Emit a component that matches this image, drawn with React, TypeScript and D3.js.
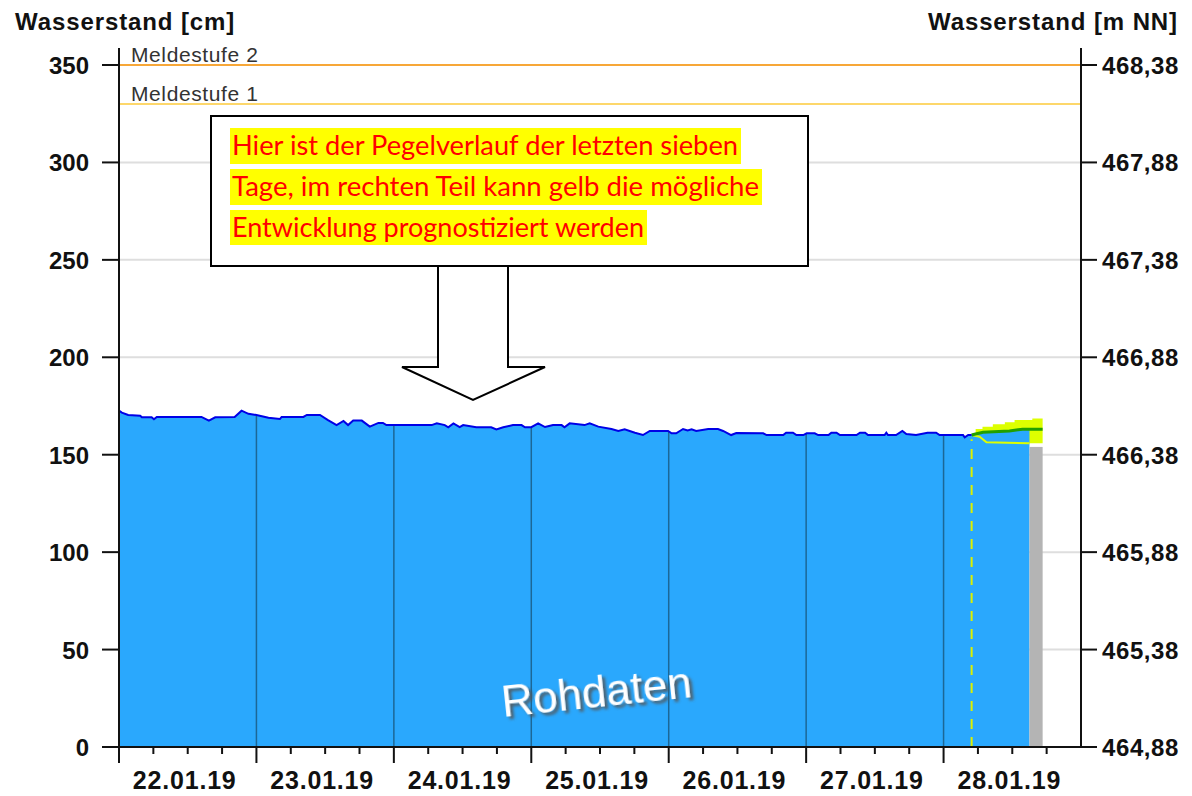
import React from 'react';
import * as d3 from 'd3';

const W = 1192;
const H = 796;

// Left axis (cm) ticks and right axis (m NN) labels
const leftTicks = [0, 50, 100, 150, 200, 250, 300, 350];
const rightTickLabels = ['464,88', '465,38', '465,88', '466,38', '466,88', '467,38', '467,88', '468,38'];
const gridTicks = [50, 100, 150, 200, 250, 300];
const dayLabels = ['22.01.19', '23.01.19', '24.01.19', '25.01.19', '26.01.19', '27.01.19', '28.01.19'];

// Thresholds
const meldestufe2 = 350;
const meldestufe1 = 330;

// Observed water level: hours since 22.01.19 00:00, level in cm
const obsHours = [0, 0.5, 1.6, 3.7, 4.0, 5.7, 6.1, 6.6, 14.4, 15.7, 16.8, 20.2, 21.4, 22.6, 24.0, 26.1, 28.1, 28.4, 32.2, 32.8, 35.1, 36.5, 38.0, 39.2, 40.0, 40.9, 42.4, 43.8, 45.3, 46.1, 46.7, 54.6, 55.5, 56.9, 57.5, 58.4, 59.5, 60.1, 62.4, 65.0, 65.9, 67.1, 68.8, 70.3, 70.9, 72.0, 73.2, 74.4, 75.8, 77.3, 77.8, 78.7, 81.3, 82.2, 83.7, 86.0, 87.2, 88.3, 90.1, 91.5, 92.7, 95.9, 96.5, 97.3, 98.5, 99.3, 100.0, 100.8, 102.9, 104.6, 105.5, 106.9, 107.8, 112.5, 113.1, 116.0, 116.5, 117.7, 118.3, 119.5, 120.1, 121.5, 122.1, 123.9, 124.4, 125.3, 125.9, 128.8, 129.4, 130.3, 130.8, 133.7, 134.0, 134.3, 135.7, 136.8, 137.5, 139.2, 141.2, 142.7, 143.3, 147.4, 147.7, 148.3, 148.9];
const obsLevels = [172.6, 171.6, 170.4, 170.0, 169.2, 169.2, 168.2, 169.4, 169.4, 167.5, 169.2, 169.4, 172.6, 171.0, 170.4, 169.0, 168.3, 169.4, 169.4, 170.4, 170.4, 167.8, 165.2, 167.3, 165.2, 167.5, 167.5, 164.4, 166.3, 166.3, 165.2, 165.2, 166.1, 165.2, 164.1, 166.1, 164.2, 165.2, 164.1, 164.1, 163.0, 164.1, 165.2, 165.2, 164.1, 164.1, 166.1, 164.2, 165.2, 165.2, 164.1, 166.1, 165.2, 166.1, 164.4, 163.2, 162.2, 163.0, 161.3, 160.1, 162.2, 162.2, 161.0, 161.0, 163.2, 162.4, 163.0, 162.2, 163.2, 163.2, 162.2, 160.1, 161.1, 161.0, 160.1, 160.1, 161.3, 161.3, 160.1, 160.1, 161.0, 161.0, 160.1, 160.1, 161.3, 161.3, 160.1, 160.1, 161.3, 161.3, 160.1, 160.1, 161.3, 160.1, 160.1, 162.2, 160.6, 160.1, 161.3, 161.3, 160.1, 160.1, 158.9, 160.1, 160.1];

// Forecast (hours, cm)
const forecastStart = 148.9;
const fcUpperHours = [148.9, 149.6, 150.8, 152.6, 154.7, 156.4, 159.5, 161.3];
const fcUpperLevels = [160.5, 163.2, 164.4, 165.6, 166.6, 167.8, 168.6, 168.6];
const fcMedianHours = [148.9, 149.4, 150.9, 155.5, 157.8, 161.3];
const fcMedianLevels = [160.1, 160.5, 161.5, 162.2, 163.1, 163.1];
const fcLowerHours = [148.9, 150.3, 151.5, 159.0, 161.3];
const fcLowerLevels = [160.1, 159.2, 156.4, 155.9, 155.9];
const blueEndHour = 159.0;
const grayEndHour = 161.3;
const grayLevel = 154;

export default function App() {
  const x = d3.scaleLinear().domain([0, 168]).range([119, 1081]);
  const y = d3.scaleLinear().domain([0, 350]).range([747, 65]);
  const top = 48;

  const obs = obsHours.map((h, i) => [h, obsLevels[i]] as [number, number]);
  const median = fcMedianHours.map((h, i) => [h, fcMedianLevels[i]] as [number, number]);
  const upper = fcUpperHours.map((h, i) => [h, fcUpperLevels[i]] as [number, number]);
  const lower = fcLowerHours.map((h, i) => [h, fcLowerLevels[i]] as [number, number]);

  // blue area: observed + median up to blueEndHour
  const medInterp = (h: number) => {
    for (let i = 0; i < median.length - 1; i++) {
      if (h >= median[i][0] && h <= median[i + 1][0]) {
        const t = (h - median[i][0]) / (median[i + 1][0] - median[i][0]);
        return median[i][1] + t * (median[i + 1][1] - median[i][1]);
      }
    }
    return median[median.length - 1][1];
  };
  const areaPts: [number, number][] = [
    ...obs,
    ...median.filter((p) => p[0] > forecastStart && p[0] < blueEndHour),
    [blueEndHour, medInterp(blueEndHour)],
  ];
  const area = d3.area<[number, number]>().x((d) => x(d[0])).y0(y(0)).y1((d) => y(d[1]));
  const line = d3.line<[number, number]>().x((d) => x(d[0])).y((d) => y(d[1]));
  const stepLine = d3.line<[number, number]>().x((d) => x(d[0])).y((d) => y(d[1])).curve(d3.curveStepAfter);

  // band between lower and upper
  const bandPath =
    stepLine(upper)! +
    'L' +
    lower
      .slice()
      .reverse()
      .map((d) => `${x(d[0])},${y(d[1])}`)
      .join('L') +
    'Z';

  const midnights = d3.range(24, 168, 24);
  const minorTicks = d3.range(6, 168, 6).filter((h) => h % 24 !== 0);

  const axisFont = "'Liberation Sans', Arial, sans-serif";

  return (
    <svg width={W} height={H} style={{ position: 'absolute', left: 0, top: 0, background: '#fff' }}>
      <defs>
        <clipPath id="areaClip">
          <path d={area(areaPts)!} />
        </clipPath>
        <filter id="shadow" x="-20%" y="-50%" width="140%" height="200%">
          <feDropShadow dx="3" dy="3" stdDeviation="1.6" floodColor="#555" floodOpacity="0.9" />
        </filter>
      </defs>
      <rect x={0} y={0} width={W} height={H} fill="#fff" />

      {/* horizontal grid */}
      {gridTicks.map((t) => (
        <line key={t} x1={x(0)} x2={x(168)} y1={y(t)} y2={y(t)} stroke="#dedede" strokeWidth={2} />
      ))}

      {/* forecast band */}
      <path d={bandPath} fill="#ddff00" />

      {/* blue area */}
      <path d={area(areaPts)!} fill="#2aa8fd" />

      {/* midnight lines inside area */}
      <g clipPath="url(#areaClip)">
        {midnights.map((h) => (
          <line key={h} x1={x(h)} x2={x(h)} y1={top} y2={y(0)} stroke="#1c6796" strokeWidth={1.5} />
        ))}
      </g>

      {/* gray bar */}
      <rect x={x(blueEndHour)} width={x(grayEndHour) - x(blueEndHour)} y={y(grayLevel)} height={y(0) - y(grayLevel)} fill="#b4b4b4" />

      {/* forecast lower edge */}
      <path d={line(lower.filter((d) => d[0] <= blueEndHour))!} fill="none" stroke="#ddff00" strokeWidth={2} />
      {/* forecast median */}
      <path d={line(median)!} fill="none" stroke="#22a000" strokeWidth={3} />

      {/* observed line */}
      <path d={line(obs)!} fill="none" stroke="#0000e6" strokeWidth={2} />

      {/* dashed forecast start */}
      <line x1={x(forecastStart)} x2={x(forecastStart)} y1={y(0)} y2={y(158)} stroke="#ddf000" strokeWidth={2} strokeDasharray="10 8" />

      {/* Meldestufen */}
      <line x1={x(0)} x2={x(168)} y1={y(meldestufe2)} y2={y(meldestufe2)} stroke="#f7a738" strokeWidth={2} />
      <line x1={x(0)} x2={x(168)} y1={y(meldestufe1)} y2={y(meldestufe1)} stroke="#fdd76b" strokeWidth={2} />
      <text x={131} y={y(meldestufe2) - 3} fontFamily={axisFont} fontSize={21} fill="#333" letterSpacing={0.6}>
        Meldestufe 2
      </text>
      <text x={131} y={y(meldestufe1) - 3} fontFamily={axisFont} fontSize={21} fill="#333" letterSpacing={0.6}>
        Meldestufe 1
      </text>

      {/* axes */}
      <line x1={x(0)} x2={x(0)} y1={top} y2={y(0)} stroke="#111" strokeWidth={2} />
      <line x1={x(168)} x2={x(168)} y1={top} y2={y(0)} stroke="#111" strokeWidth={2} />
      <line x1={x(0)} x2={x(168)} y1={y(0)} y2={y(0)} stroke="#111" strokeWidth={2} />
      {leftTicks.map((t, i) => (
        <g key={t}>
          <line x1={102} x2={x(0)} y1={y(t)} y2={y(t)} stroke="#111" strokeWidth={2} />
          <line x1={x(168)} x2={1097} y1={y(t)} y2={y(t)} stroke="#111" strokeWidth={2} />
          <text x={89} y={y(t) + 9} textAnchor="end" fontFamily={axisFont} fontWeight="bold" fontSize={24} fill="#111">
            {t}
          </text>
          <text x={1102} y={y(t) + 9} fontFamily={axisFont} fontWeight="bold" fontSize={24} fill="#111" letterSpacing={0.6}>
            {rightTickLabels[i]}
          </text>
        </g>
      ))}
      {d3.range(0, 168, 24).map((h) => (
        <line key={h} x1={x(h)} x2={x(h)} y1={y(0)} y2={y(0) + 16} stroke="#111" strokeWidth={2} />
      ))}
      {minorTicks.map((h) => (
        <line key={h} x1={x(h)} x2={x(h)} y1={y(0)} y2={y(0) + 7} stroke="#111" strokeWidth={2} />
      ))}
      {dayLabels.map((lbl, i) => (
        <text key={lbl} x={x(i * 24 + 12) - 3} y={789} textAnchor="middle" fontFamily={axisFont} fontWeight="bold" fontSize={25} fill="#111" letterSpacing={0.8}>
          {lbl}
        </text>
      ))}

      {/* axis titles */}
      <text x={15} y={30} fontFamily={axisFont} fontWeight="bold" fontSize={24} fill="#111" letterSpacing={0.9}>
        Wasserstand [cm]
      </text>
      <text x={1178} y={30} textAnchor="end" fontFamily={axisFont} fontWeight="bold" fontSize={24} fill="#111" letterSpacing={0.9}>
        Wasserstand [m NN]
      </text>

      {/* Rohdaten watermark */}
      <text
        x={598}
        y={707}
        textAnchor="middle"
        transform="rotate(-6 598 707)"
        fontFamily={axisFont}
        fontSize={44}
        fill="#ffffff"
        filter="url(#shadow)"
      >
        Rohdaten
      </text>

      {/* annotation arrow */}
      <path
        d="M438,266 L438,367 L402,367 L473,400 L545,367 L508,367 L508,266"
        fill="#fff"
        stroke="#000"
        strokeWidth={2}
        strokeLinejoin="miter"
      />
      {/* annotation box */}
      <rect x={211} y={116} width={597} height={150} fill="#fff" stroke="#000" strokeWidth={2} />
      <rect x={230} y={128} width={511} height={36} fill="#ffff00" />
      <rect x={230} y={169} width={532} height={36} fill="#ffff00" />
      <rect x={230} y={210} width={417} height={35} fill="#ffff00" />
      <g fontFamily="Lato, 'Open Sans', sans-serif" fontSize={26} fill="#ff0000">
        <text x={232} y={155} textLength={506} lengthAdjust="spacingAndGlyphs">
          Hier ist der Pegelverlauf der letzten sieben
        </text>
        <text x={232} y={196} textLength={527} lengthAdjust="spacingAndGlyphs">
          Tage, im rechten Teil kann gelb die mögliche
        </text>
        <text x={232} y={237} textLength={412} lengthAdjust="spacingAndGlyphs">
          Entwicklung prognostiziert werden
        </text>
      </g>
    </svg>
  );
}
